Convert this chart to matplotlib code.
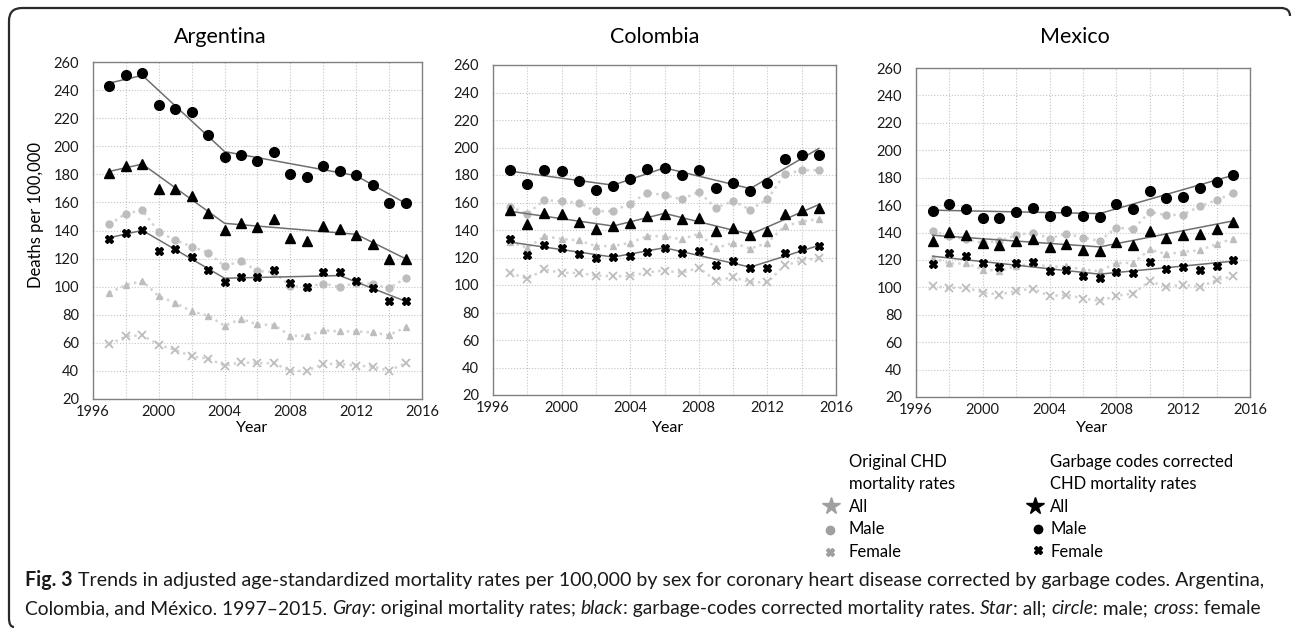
import matplotlib
matplotlib.use("Agg")
import matplotlib.pyplot as plt
from matplotlib.path import Path
from matplotlib.patches import PathPatch
from matplotlib.ticker import MultipleLocator

plt.rcParams['font.family'] = ['Lato', 'DejaVu Sans']

# Years of the series (one point per year)
YEARS = list(range(1997, 2016))

# Argentina - garbage codes corrected rates (black)
ARG_MALE = [242.9, 250.5, 252.2, 229.1, 226.7, 224.1, 208.1, 192.6, 194.0, 189.7,
            196.2, 180.2, 178.3, 185.7, 182.1, 179.5, 172.3, 159.9, 159.4]
ARG_ALL = [180.9, 186.1, 187.3, 169.9, 169.5, 164.7, 152.3, 140.4, 145.1, 142.5,
           148.0, 134.9, 132.5, 143.2, 141.3, 136.6, 130.6, 119.9, 119.9]
ARG_FEMALE = [133.7, 138.2, 140.1, 125.4, 127.0, 121.1, 112.2, 103.4, 107.0, 106.8,
              111.8, 102.7, 99.8, 110.3, 110.3, 103.9, 98.9, 89.8, 89.8]
# Argentina - original rates (gray)
ARG_MALE_ORIG = [144.4, 152.1, 154.4, 138.9, 133.2, 128.5, 124.2, 114.6, 118.2, 111.0,
                 110.6, 100.3, 99.8, 102.2, 99.8, 102.7, 101.8, 98.9, 106.0]
ARG_ALL_ORIG = [95.6, 101.3, 103.9, 93.2, 88.4, 82.4, 79.3, 72.2, 77.0, 73.1,
                72.7, 65.0, 65.0, 68.9, 68.1, 68.1, 67.4, 65.5, 71.0]
ARG_FEMALE_ORIG = [59.1, 64.6, 65.5, 58.4, 55.0, 50.3, 48.8, 43.8, 46.2, 45.5,
                   45.5, 40.0, 40.0, 45.0, 45.0, 43.8, 43.1, 40.2, 45.5]
# Argentina - joinpoint trends
ARG_TREND_YEARS = [1997, 1999, 2004, 2012, 2015]
ARG_TREND_YEARS_F = [1997, 1999, 2004, 2011, 2015]
ARG_MALE_TREND = [245.0, 250.5, 196.2, 179.0, 159.4]
ARG_ALL_TREND = [182.1, 187.3, 145.1, 137.3, 119.9]
ARG_FEMALE_TREND = [134.9, 140.1, 106.0, 107.9, 89.6]

# Colombia
COL_MALE = [183.5, 173.8, 184.0, 183.0, 175.5, 168.9, 172.1, 176.9, 184.2, 185.2,
            179.9, 183.3, 170.9, 174.3, 168.4, 174.5, 191.5, 194.5, 194.9]
COL_ALL = [154.8, 144.6, 152.6, 151.4, 145.8, 140.9, 142.6, 145.3, 149.9, 151.9,
           147.8, 148.7, 139.0, 141.7, 136.6, 139.0, 151.9, 154.3, 156.3]
COL_FEMALE = [133.2, 122.0, 129.3, 126.8, 122.2, 119.5, 120.3, 121.0, 123.9, 127.1,
              123.4, 124.4, 114.7, 117.1, 112.5, 112.5, 123.4, 126.4, 128.3]
COL_MALE_ORIG = [157.0, 151.9, 161.6, 160.9, 159.9, 153.6, 153.8, 159.2, 167.2, 165.3,
                 162.4, 167.7, 156.0, 161.1, 154.8, 162.4, 180.4, 183.5, 183.5]
COL_ALL_ORIG = [131.2, 127.1, 135.4, 133.6, 132.4, 128.3, 128.3, 130.7, 135.6, 135.4,
                133.2, 137.3, 126.8, 130.7, 126.4, 130.7, 142.6, 146.3, 147.8]
COL_FEMALE_ORIG = [108.8, 104.5, 111.3, 108.8, 108.8, 106.9, 106.4, 106.4, 109.3, 110.5,
                   108.8, 112.5, 103.2, 105.7, 102.0, 102.0, 114.2, 117.8, 119.5]
COL_TREND_YEARS = [1997, 2003, 2006, 2011, 2015]
COL_MALE_TREND = [182.8, 172.6, 185.2, 170.1, 199.3]
COL_ALL_TREND = [153.6, 142.9, 152.1, 136.8, 158.5]
COL_FEMALE_TREND = [131.2, 120.3, 127.1, 113.0, 128.8]

# Mexico
MEX_MALE = [155.5, 160.6, 156.8, 150.9, 150.9, 155.1, 158.0, 151.9, 155.8, 151.9,
            151.4, 161.1, 157.0, 170.4, 165.5, 166.0, 172.6, 176.9, 182.3]
MEX_ALL = [133.9, 140.5, 138.5, 132.4, 130.7, 133.9, 135.6, 129.5, 131.9, 127.1,
           126.4, 132.9, 131.2, 141.2, 136.3, 138.0, 139.2, 142.9, 147.8]
MEX_FEMALE = [116.9, 125.1, 122.7, 117.4, 114.9, 117.4, 118.6, 112.0, 112.5, 108.4,
              107.1, 111.3, 110.1, 118.6, 113.7, 114.9, 113.0, 115.6, 120.3]
MEX_MALE_ORIG = [141.2, 137.3, 134.9, 132.4, 133.9, 138.0, 140.0, 135.6, 139.2, 136.3,
                 133.9, 143.6, 142.4, 155.1, 152.6, 153.1, 159.2, 163.6, 168.9]
MEX_ALL_ORIG = [121.7, 117.4, 117.4, 113.0, 112.0, 115.4, 117.4, 114.9, 115.4, 113.0,
                111.8, 117.8, 117.8, 127.6, 124.2, 125.9, 127.1, 131.5, 135.6]
MEX_FEMALE_ORIG = [100.8, 99.6, 99.8, 96.2, 94.7, 97.4, 99.1, 93.5, 94.7, 91.8,
                   90.1, 93.8, 95.5, 104.5, 100.3, 102.0, 100.3, 105.2, 108.1]
MEX_TREND_YEARS = [1997, 2007, 2015]
MEX_MALE_TREND = [156.3, 153.8, 181.8]
MEX_ALL_TREND = [138.0, 129.5, 148.5]
MEX_FEMALE_TREND = [122.7, 109.6, 119.1]

TITLES = ["Argentina", "Colombia", "Mexico"]

CAPTION_1 = [("Fig. 3", "bold", True),
             ("Trends in adjusted age-standardized mortality rates per 100,000 by sex for "
              "coronary heart disease corrected by garbage codes. Argentina,", "normal", False)]
CAPTION_2 = [("Colombia, and México. 1997–2015.", "normal", True),
             ("Gray", "italic", False),
             (": original mortality rates;", "normal", True),
             ("black", "italic", False),
             (": garbage-codes corrected mortality rates.", "normal", True),
             ("Star", "italic", False),
             (": all;", "normal", True),
             ("circle", "italic", False),
             (": male;", "normal", True),
             ("cross", "italic", False),
             (": female", "normal", False)]

W, H = 1292, 628
GRAY = '#bdbdbd'
GRAY_LINE = '#d3d3d3'
TREND = '#6f6f6f'
LEGEND_GRAY = '#a0a0a0'
CAPTION_FONT = ['Lato', 'DejaVu Sans']


def px_box(l, t, r, b):
    return [l / W, 1 - b / H, (r - l) / W, (b - t) / H]


def draw_panel(fig, box, orig, corr, trends):
    ax = fig.add_axes(px_box(*box))
    male_o, all_o, female_o = orig
    line_kw = dict(color=GRAY_LINE, ls=':', lw=1.8, zorder=2)
    ax.plot(YEARS, female_o, marker='x', ms=5.5, mec=GRAY, mew=1.3, **line_kw)
    ax.plot(YEARS, all_o, marker='^', ms=5, mfc=GRAY, mec=GRAY, **line_kw)
    ax.plot(YEARS, male_o, marker='o', ms=5, mfc=GRAY, mec=GRAY, **line_kw)

    for ty, tv in trends:
        ax.plot(ty, tv, color=TREND, lw=1.1, zorder=3)

    male, all_, female = corr
    ax.plot(YEARS, male, ls='none', marker='o', ms=7, color='black', zorder=4)
    ax.plot(YEARS, all_, ls='none', marker='^', ms=6.5, color='black', zorder=4)
    ax.plot(YEARS, female, ls='none', marker='X', ms=6, color='black', zorder=4)

    ax.set_xlim(1996, 2016)
    ax.set_ylim(20, 260)
    ax.xaxis.set_major_locator(MultipleLocator(4))
    ax.xaxis.set_minor_locator(MultipleLocator(2))
    ax.yaxis.set_major_locator(MultipleLocator(20))
    ax.grid(which='both', color='#c4c4c4', ls=':', lw=0.8)
    ax.set_axisbelow(True)
    ax.tick_params(which='both', length=0, labelsize=10.5, labelcolor='#1a1a1a')
    ax.tick_params(axis='y', pad=10)
    ax.tick_params(axis='x', pad=4)
    for sp in ax.spines.values():
        sp.set_color('#808080')
        sp.set_linewidth(1.0)
    return ax


def draw_rich_line(fig, ax, x, y, pieces, fs):
    renderer = fig.canvas.get_renderer()
    inv = ax.transData.inverted()
    probe = ax.text(0, 0, "x x", fontsize=fs, family=CAPTION_FONT)
    probe2 = ax.text(0, 0, "xx", fontsize=fs, family=CAPTION_FONT)
    space = probe.get_window_extent(renderer).width - probe2.get_window_extent(renderer).width
    probe.remove()
    probe2.remove()
    arts = []
    for txt, style, gap in pieces:
        weight = 'bold' if style == 'bold' else 'normal'
        fstyle = 'italic' if style == 'italic' else 'normal'
        t = ax.text(x, y, txt, fontsize=fs, family=CAPTION_FONT, weight=weight,
                    style=fstyle, va='baseline', ha='left', color='#1a1a1a')
        arts.append(t)
        bb = t.get_window_extent(renderer)
        x = inv.transform((bb.x1, bb.y0))[0]
        if gap:
            x += space
    return arts, x


def fitted_line(fig, ax, x0, x1, y, pieces, fs=13):
    # draw once, measure, then redraw at the size that ends at x1
    arts, x_end = draw_rich_line(fig, ax, x0, y, pieces, fs)
    for a in arts:
        a.remove()
    draw_rich_line(fig, ax, x0, y, pieces, fs * (x1 - x0) / (x_end - x0))


def main():
    fig = plt.figure(figsize=(W / 100, H / 100), dpi=100)

    draw_panel(fig, (93, 62, 422, 399),
               (ARG_MALE_ORIG, ARG_ALL_ORIG, ARG_FEMALE_ORIG),
               (ARG_MALE, ARG_ALL, ARG_FEMALE),
               [(ARG_TREND_YEARS, ARG_MALE_TREND), (ARG_TREND_YEARS, ARG_ALL_TREND),
                (ARG_TREND_YEARS_F, ARG_FEMALE_TREND)])
    draw_panel(fig, (493, 65, 836, 395),
               (COL_MALE_ORIG, COL_ALL_ORIG, COL_FEMALE_ORIG),
               (COL_MALE, COL_ALL, COL_FEMALE),
               [(COL_TREND_YEARS, COL_MALE_TREND), (COL_TREND_YEARS, COL_ALL_TREND),
                (COL_TREND_YEARS, COL_FEMALE_TREND)])
    draw_panel(fig, (916, 68, 1250, 397),
               (MEX_MALE_ORIG, MEX_ALL_ORIG, MEX_FEMALE_ORIG),
               (MEX_MALE, MEX_ALL, MEX_FEMALE),
               [(MEX_TREND_YEARS, MEX_MALE_TREND), (MEX_TREND_YEARS, MEX_ALL_TREND),
                (MEX_TREND_YEARS, MEX_FEMALE_TREND)])

    # overlay in pixel coordinates for titles, legend, frame and caption
    lax = fig.add_axes([0, 0, 1, 1])
    lax.set_xlim(0, W)
    lax.set_ylim(H, 0)
    lax.axis('off')

    for title, tx in zip(TITLES, [220, 655, 1075]):
        lax.text(tx, 43, title, fontsize=15.5, ha='center', va='baseline')
    for yx in [252, 668, 1092]:
        lax.text(yx, 432, "Year", fontsize=11.5, ha='center', va='baseline')
    lax.text(36, 215, "Deaths per 100,000", fontsize=12, rotation=90,
             ha='center', va='center')

    # legend
    lfs = 12
    lax.text(849, 467, "Original CHD", fontsize=lfs, va='baseline')
    lax.text(849, 489, "mortality rates", fontsize=lfs, va='baseline')
    lax.plot(831, 506, marker='*', ms=13, color=LEGEND_GRAY, ls='none')
    lax.plot(830, 530, marker='o', ms=6, color=LEGEND_GRAY, ls='none')
    lax.plot(830, 552, marker='X', ms=5.5, color=LEGEND_GRAY, ls='none')
    lax.text(1050, 467, "Garbage codes corrected", fontsize=lfs, va='baseline')
    lax.text(1050, 489, "CHD mortality rates", fontsize=lfs, va='baseline')
    lax.plot(1035, 506, marker='*', ms=13, color='black', ls='none')
    lax.plot(1038, 529, marker='o', ms=6, color='black', ls='none')
    lax.plot(1038, 550, marker='X', ms=5.5, color='black', ls='none')
    for y, lab in zip([512, 534, 557], ["All", "Male", "Female"]):
        lax.text(849, y, lab, fontsize=lfs, va='baseline')
        lax.text(1050, y, lab, fontsize=lfs, va='baseline')

    # rounded frame round the figure
    verts = [(14, 627), (9, 627), (9, 618), (9, 21), (9, 8), (22, 8),
             (1281, 8), (1290, 8), (1290, 16)]
    codes = [Path.MOVETO, Path.CURVE3, Path.CURVE3, Path.LINETO, Path.CURVE3,
             Path.CURVE3, Path.LINETO, Path.CURVE3, Path.CURVE3]
    lax.add_patch(PathPatch(Path(verts, codes), fill=False, lw=1.6,
                            ec='#2a2a2a', clip_on=False))

    # caption: both lines run to the same right edge as in the reference
    fitted_line(fig, lax, 25, 1260, 586, CAPTION_1)
    fitted_line(fig, lax, 25, 1260, 614, CAPTION_2)

    fig.savefig("out.png", dpi=100)


if __name__ == "__main__":
    main()
